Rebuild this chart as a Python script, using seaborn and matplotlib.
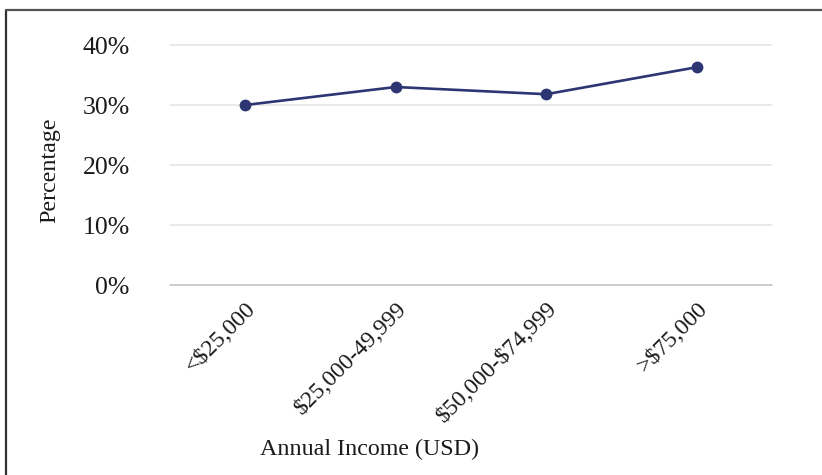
import matplotlib
matplotlib.use("Agg")
import matplotlib.pyplot as plt
from matplotlib.lines import Line2D
from matplotlib.ticker import FuncFormatter
import seaborn as sns
import pandas as pd

# Share of respondents by annual household income
income_groups = ["<$25,000", "$25,000-49,999", "$50,000-$74,999", ">$75,000"]
percentages = [30.0, 33.0, 31.8, 36.3]
y_ticks = [0, 10, 20, 30, 40]

df = pd.DataFrame({"income": income_groups, "pct": percentages})

sns.set_theme(style="white")
plt.rcParams["font.family"] = ["Liberation Serif", "DejaVu Serif"]
plt.rcParams["text.parse_math"] = False

W, H = 822, 475
fig = plt.figure(figsize=(W / 100, H / 100), dpi=100)
ax = fig.add_axes([170 / W, 190 / H, 602 / W, 240 / H])

line_color = "#2D3573"
sns.lineplot(data=df, x="income", y="pct", sort=False, ax=ax,
             color=line_color, linewidth=1.9, marker="o", markersize=8.5,
             markeredgewidth=0, markeredgecolor=line_color)

ax.set_xlim(-0.5, 3.5)
ax.set_ylim(0, 40)
ax.set_yticks(y_ticks)
ax.yaxis.set_major_formatter(FuncFormatter(lambda v, _: f"{v:.0f}%"))

# horizontal gridlines
for v in y_ticks:
    ax.axhline(v, color="#BFBFBF" if v == 0 else "#E3E3E3",
               linewidth=1.1, zorder=0, clip_on=False)

for s in ax.spines.values():
    s.set_visible(False)

ax.tick_params(axis="y", length=0, pad=29, labelsize=18.5, labelcolor="#1a1a1a")
ax.tick_params(axis="x", length=0, pad=9.5, labelsize=17, labelcolor="#1a1a1a")

ax.set_xticks(range(len(income_groups)))
ax.set_xticklabels(income_groups)
for lbl in ax.get_xticklabels():
    lbl.set_rotation(45)
    lbl.set_ha("right")
    lbl.set_va("top")
    lbl.set_rotation_mode("anchor")

ax.set_xlabel("Annual Income (USD)", fontsize=17.3, color="#1a1a1a")
ax.xaxis.label.set_va("center")
ax.xaxis.set_label_coords((369 - 170) / 602, (285 - 449) / 240)

ax.set_ylabel("Percentage", fontsize=17.3, color="#1a1a1a")
ax.yaxis.label.set_va("center")
ax.yaxis.set_label_coords((50 - 170) / 602, (285 - 170) / 240)

# outer frame on the left and top edges
fx = 5.5 / W
fy = 1 - 10 / H
fig.add_artist(Line2D([fx, fx], [0, fy], transform=fig.transFigure,
                      color="#333333", linewidth=1.6))
fig.add_artist(Line2D([fx, 1], [fy, fy], transform=fig.transFigure,
                      color="#555555", linewidth=1.6))

fig.savefig("out.png", dpi=100, facecolor="white")
